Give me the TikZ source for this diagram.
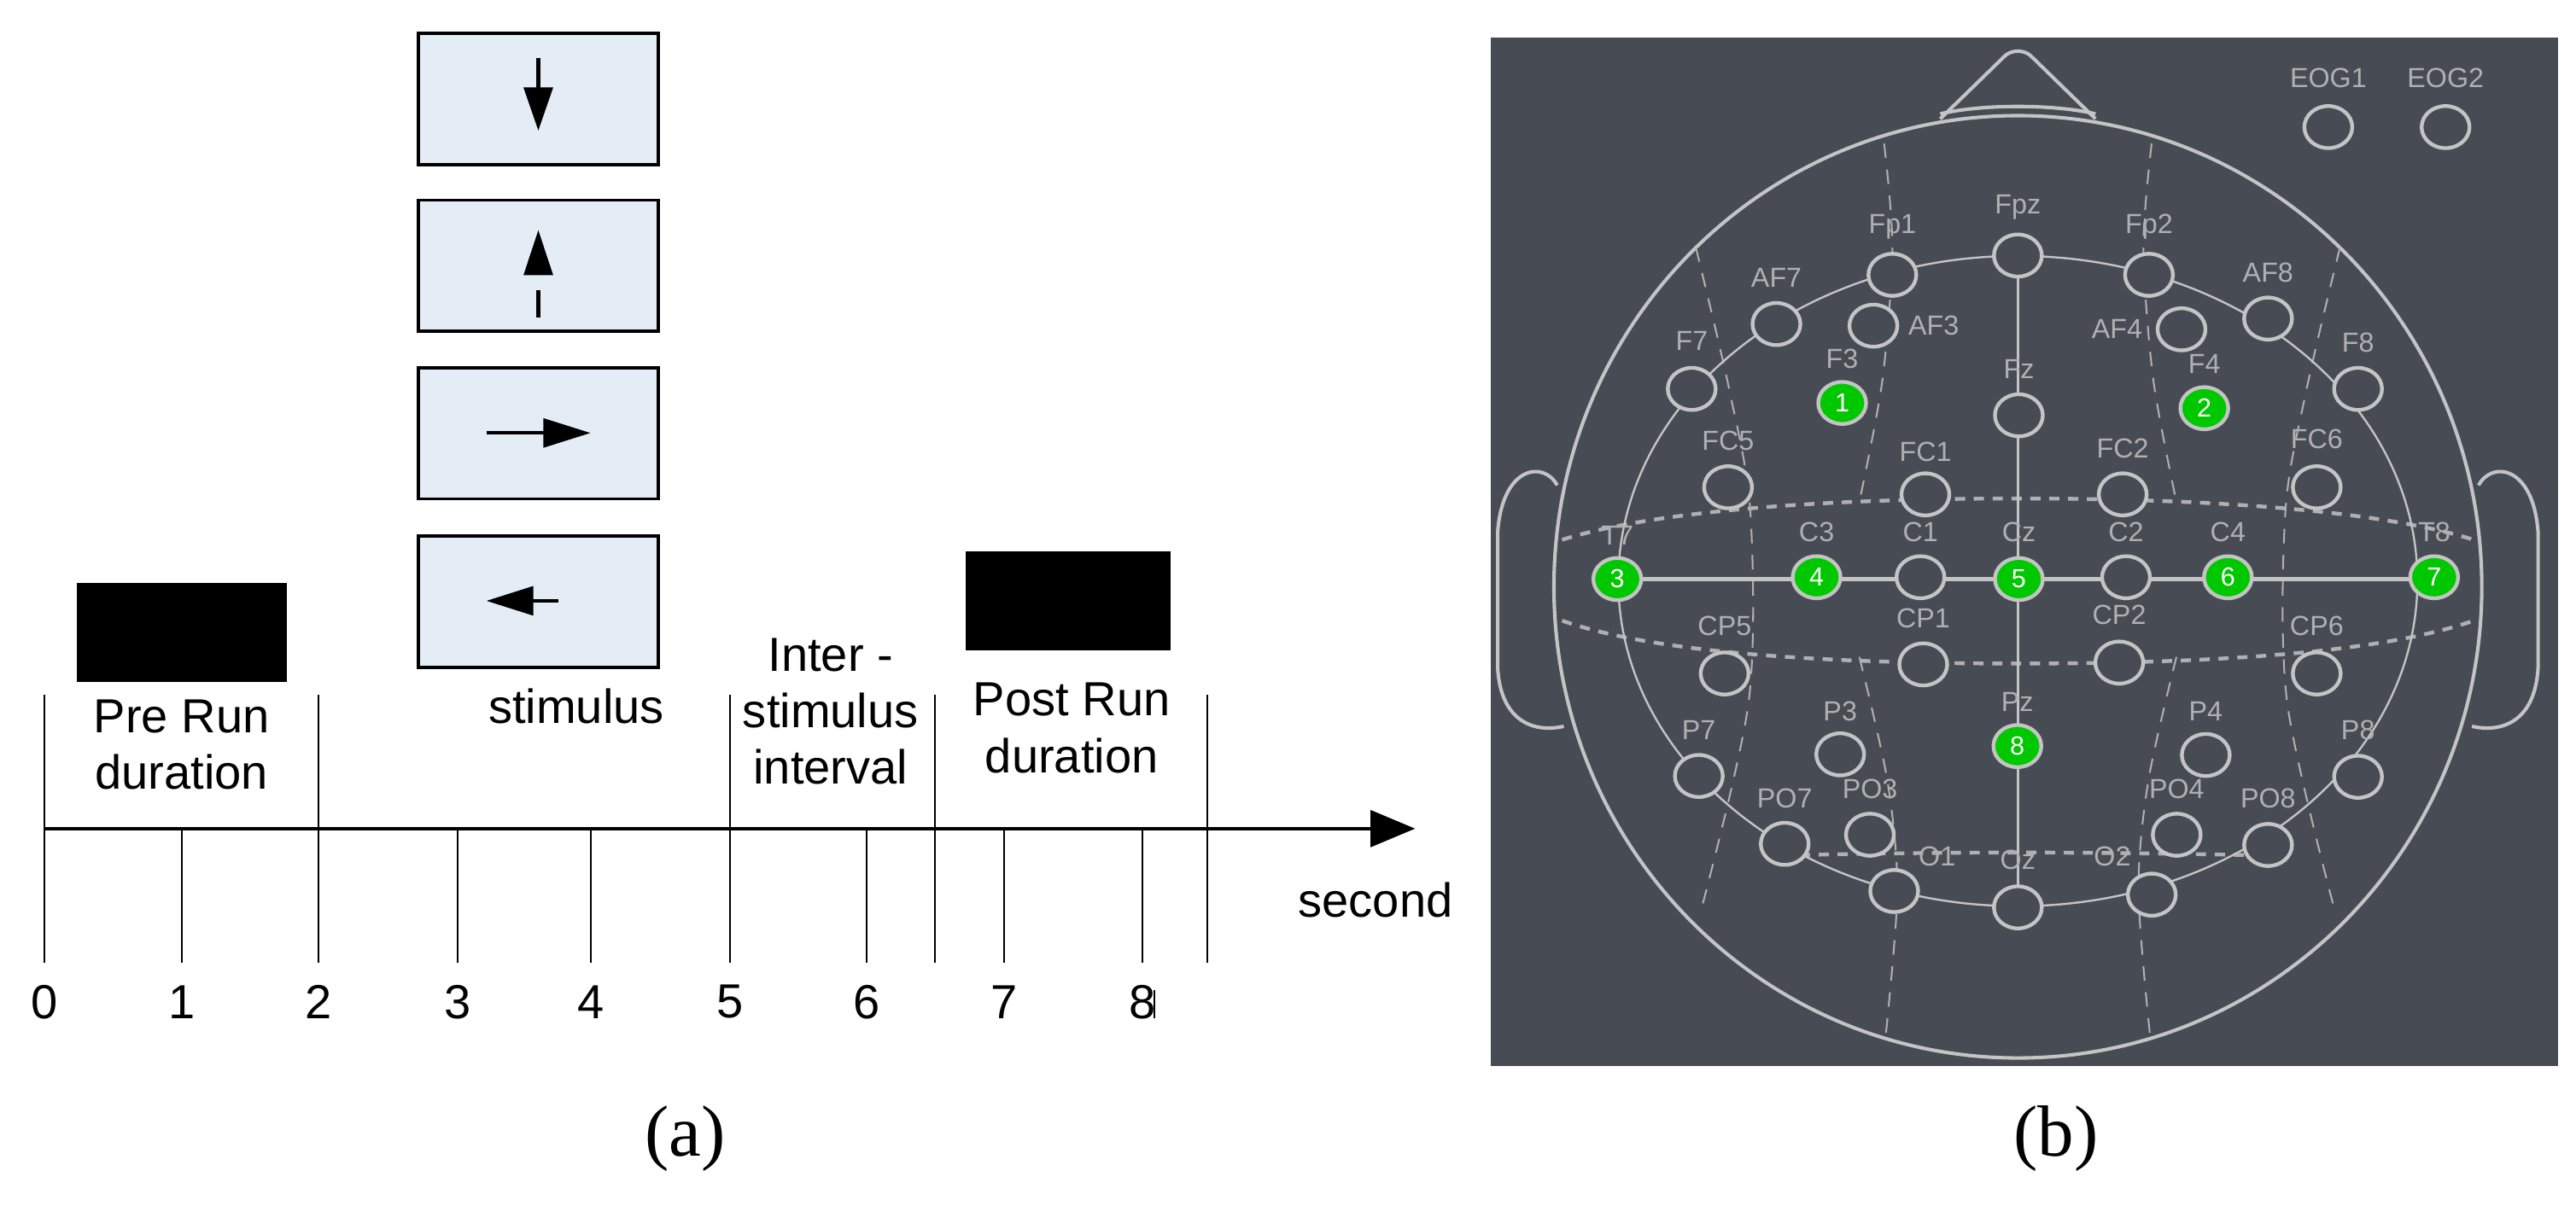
\documentclass[tikz,border=0pt]{standalone}
\usepackage{fontspec}
\setmainfont{Liberation Sans}
\newfontfamily\serifcap{Liberation Serif}
\usetikzlibrary{shapes.geometric,arrows.meta}
\definecolor{bg}{HTML}{474B54}
\definecolor{elgray}{HTML}{C4C4C4}
\definecolor{lblgray}{HTML}{B0B0B0}
\definecolor{boxfill}{HTML}{E4ECF6}
\definecolor{egreen}{HTML}{00C800}
\tikzset{
  elec/.style={ellipse, draw=elgray, line width=0.045cm, fill=bg, minimum width=0.58cm, minimum height=0.51cm, inner sep=0pt},
  gelec/.style={elec, fill=egreen, text=white, font=\fontsize{9}{9}\selectfont},
  elbl/.style={text=lblgray, font=\fontsize{9.5}{10}\selectfont, inner sep=0pt, yshift=0.07cm},
  stimbox/.style={draw=black, line width=0.04cm, fill=boxfill, minimum width=2.9cm, minimum height=1.59cm, inner sep=0pt},
  blackbox/.style={fill=black, inner sep=0pt},
  txt/.style={font=\fontsize{16.5}{19.5}\selectfont, align=center, inner sep=0pt},
  tick/.style={line width=0.6pt},
  radial/.style={lblgray, line width=0.6pt, dash pattern=on 5pt off 4pt},
  arcd/.style={lblgray, line width=1.3pt, dash pattern=on 3.5pt off 3pt},
  headline/.style={elgray, line width=1.2pt},
}
\begin{document}
\begin{tikzpicture}[x=0.02cm,y=-0.02cm]
\useasboundingbox (0,0) rectangle (1560,730.6);
\fill[white] (0,0) rectangle (1560,730.6);
% ---------------- panel (a) ----------------
\node[stimbox] (b1) at (326,60) {};
\node[stimbox] (b2) at (326,161) {};
\node[stimbox] (b3) at (326,262.5) {};
\node[stimbox] (b4) at (326,364.5) {};
\draw[line width=1.2pt] (326,35) -- (326,55);
\fill (317,53) -- (335,53) -- (326,79) -- cycle;
\fill (326,139.5) -- (317,166.7) -- (335,166.7) -- cycle;
\draw[line width=1.2pt] (326,175.7) -- (326,192.5);
\draw[line width=1.2pt] (294.7,262.3) -- (330,262.3);
\fill (329,253.3) -- (357.5,262.3) -- (329,271.3) -- cycle;
\draw[line width=1.2pt] (322,364) -- (338,364);
\fill (323,355) -- (294.7,364) -- (323,373) -- cycle;
\node[blackbox, minimum width=2.54cm, minimum height=1.2cm] (pre) at (110,383) {};
\node[blackbox, minimum width=2.48cm, minimum height=1.2cm] (post) at (647,364) {};
\coordinate (a0) at (27,502);
\coordinate (aend) at (857,502);
\draw[line width=1.3pt, -{Triangle[length=0.54cm,width=0.44cm]}] (a0) -- (aend);
\foreach \x in {27,193,442,566,731} \draw[tick] (\x,421) -- (\x,583);
\foreach \x in {110,277,358,525,608,692} \draw[tick] (\x,502) -- (\x,583);
\draw[tick] (699,600) -- (699,617);
\foreach \x/\n in {27/0,110/1,193/2,277/3,358/4,442/5,525/6,608/7,692/8}
  \node[txt] (n\n) at (\x,607) {\n};
\node[txt] (prerun) at (110,451) {Pre Run\\duration};
\node[txt] (stim) at (349,428) {stimulus};
\node[txt] (isi) at (503,431) {Inter -\\stimulus\\interval};
\node[txt] (postrun) at (649,441) {Post Run\\duration};
\node[txt] (sec) at (833,545) {second};
\node[font=\serifcap\fontsize{25}{25}\selectfont] (la) at (415,690) {(a)};
\node[font=\serifcap\fontsize{25}{25}\selectfont] (lb) at (1245,690) {(b)};
% ---------------- panel (b) ----------------
\fill[bg] (903,23) rectangle (1549,646);
\draw[headline] (1222,355.5) ellipse [x radius=5.62cm, y radius=5.71cm];
\draw[headline, line join=round] (1175,72) -- (1214,34) .. controls (1218,30) and (1226,30) .. (1230,34) -- (1269,72);
\draw[headline] (1175,69) .. controls (1200,63) and (1244,63) .. (1269,69);
\draw[headline] (943,294) .. controls (935,279) and (910,282) .. (907,322) -- (907,405) .. controls (909,438) and (930,444) .. (947,440);
\draw[headline] (1501,294) .. controls (1509,279) and (1534,282) .. (1537,322) -- (1537,405) .. controls (1535,438) and (1514,444) .. (1497,440);
\draw[radial] plot[smooth] coordinates {(1141,87) (1146,150) (1140,230) (1126,304)};
\draw[radial] plot[smooth] coordinates {(1126,398) (1143,473) (1149,540) (1142,627)};
\draw[radial] plot[smooth] coordinates {(1303,87) (1298,150) (1304,230) (1318,304)};
\draw[radial] plot[smooth] coordinates {(1318,398) (1301,473) (1295,540) (1302,627)};
\draw[radial] plot[smooth] coordinates {(1027,150) (1047,235) (1060,310) (1059,425) (1030,552)};
\draw[radial] plot[smooth] coordinates {(1417,150) (1397,235) (1384,310) (1385,425) (1414,552)};
\draw[arcd] (946,327) .. controls (1000,310) and (1100,302) .. (1222,302) .. controls (1344,302) and (1444,310) .. (1498,327);
\draw[arcd] (946,376) .. controls (1000,395) and (1100,402) .. (1222,402) .. controls (1344,402) and (1444,395) .. (1498,376);
\draw[arcd] (1090,518) .. controls (1180,516) and (1264,516) .. (1360,518);
\draw[elgray, line width=0.7pt] (1222,352) ellipse [x radius=4.84cm, y radius=3.94cm];
\draw[elgray, line width=0.7pt] (1222,155) -- (1222,550);
\draw[elgray, line width=1.4pt] (979,351) -- (1474,351);
\foreach \n/\x/\y in {
  EOGa/1410/77, EOGb/1481/77,
  Fpa/1146/166.5, Fpz/1222/154.8, Fpb/1301.4/166.5,
  AFa/1075.8/196.3, AFb/1373.5/193,
  Fa/1024.5/235.6, Fz/1222.6/251.6, Fb/1428/235.6,
  FCa/1046.5/295.2, FCb/1166/299.5, FCc/1285.5/299.5, FCd/1403/295.2,
  Ca/1163/349.7, Cb/1287.5/349.7,
  CPa/1044.4/408, CPb/1164.7/402.5, CPc/1283.4/401.4, CPd/1403/408,
  Pa/1028.8/470.1, Pb/1114.4/457, Pc/1335.8/457.4, Pd/1428/470.6,
  POa/1080.8/511.2, POb/1132.4/505.7, POc/1318.2/505.7, POd/1373.5/511.9,
  Oa/1147.1/539.8, Oz/1222/549.7, Ob/1303.1/542,
  AFc/1134.5/197.3, AFd/1321.1/199.5}
  \node[elec] (\n) at (\x,\y) {};
\foreach \t/\lx/\ly in {EOG1/1410/50.5, EOG2/1481/50.5, Fp1/1146/141, Fpz/1222/129.2, Fp2/1301.4/141,
  AF7/1075.8/171.8, AF8/1373.5/168.6,
  F7/1024.5/210, Fz/1222.6/227, F8/1428/211, F3/1115.6/220.7, F4/1334.9/224,
  FC5/1046.5/270.7, FC1/1166/277, FC2/1285.5/275, FC6/1403/269.7,
  T7/979.4/327.8, C3/1100.1/325.6, C1/1163/325.6, Cz/1222.6/325.6, C2/1287.5/325.6, C4/1349.2/325.6, T8/1474.1/325.6,
  CP5/1044.4/382.7, CP1/1164.7/378.3, CP2/1283.4/376.1, CP6/1403/382.7,
  P7/1028.8/446, P3/1114.4/434.3, Pz/1221.7/428.8, P4/1335.8/434.3, P8/1428/446,
  PO7/1080.8/487, PO3/1132.4/481.6, PO4/1318.2/481.6, PO8/1373.5/487,
  O1/1173.1/522.2, Oz/1222/524.4, O2/1279.2/522.2}
  \node[elbl] (l\t) at (\lx,\ly) {\t};
\node[elbl, yshift=-0.07cm] (lAF3) at (1171,197) {AF3};
\node[elbl, yshift=-0.07cm] (lAF4) at (1282,199.5) {AF4};
\foreach \n/\x/\y/\k in {F3/1115.6/244.1/1, F4/1334.9/247.3/2, T7/979.4/350.8/3, C3/1100.1/349.7/4,
  Cz/1222.6/350.8/5, C4/1349.2/349.7/6, T8/1474.1/349.7/7, Pz/1221.7/452/8}
  \node[gelec] (g\n) at (\x,\y) {\k};
\end{tikzpicture}
\end{document}
